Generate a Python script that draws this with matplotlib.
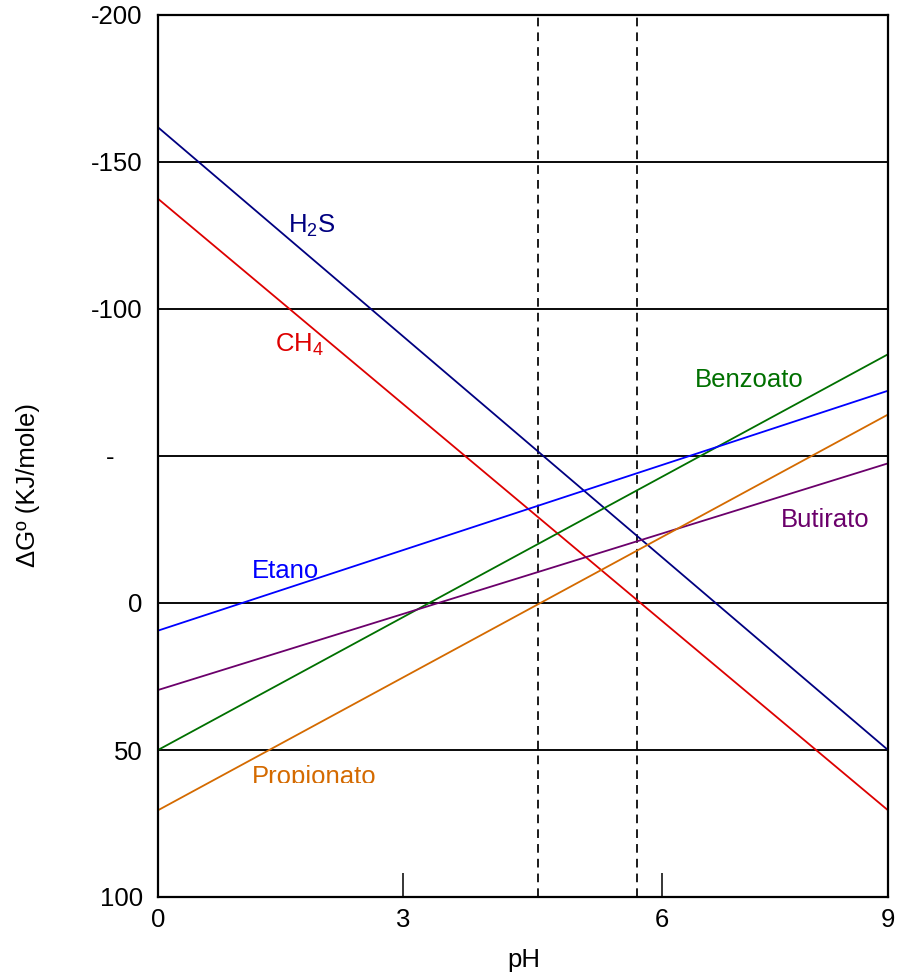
import matplotlib
matplotlib.use("Agg")
import matplotlib.pyplot as plt
from matplotlib.patches import Rectangle

plt.rcParams['font.family'] = ['Liberation Sans', 'DejaVu Sans']
plt.rcParams['mathtext.default'] = 'regular'

# ---- data ----
ph_range = [0, 9]
series_names = ['H$_2$S', 'CH$_4$', 'Benzoato', 'Etano', 'Butirato', 'Propionato']
series_start = [-161.8, -137.5, 50.0, 9.4, 29.6, 70.5]   # dG at pH 0
series_end = [50.0, 70.5, -84.6, -72.2, -47.5, -64.1]     # dG at pH 9
series_colors = ['#000080', '#DD0000', '#007000', '#0000FF', '#6B006B', '#D46A00']
label_x = [1.60, 1.44, 6.62, 1.16, 7.68, 1.16]
label_y = [-126.0, -85.5, -73.3, -8.4, -25.7, 61.5]

hlines = [-150, -100, -50, 0, 50]
vlines = [4.69, 5.90]

xtick_pos = [0, 3.02, 6.21, 9]
xtick_labels = ['0', '3', '6', '9']
ytick_pos = [-200, -150, -100, -50, 0, 50, 100]
ytick_labels = ['-200', '-150', '-100', '-    ', '0', '50', '100']

# ---- figure ----
fig = plt.figure(figsize=(9, 9.73), dpi=100)
ax = fig.add_axes([158/900, 1-897/973, 730/900, 882/973])

for yv in hlines:
    ax.axhline(yv, color='black', lw=1.35, zorder=1)
for xv in vlines:
    ax.axvline(xv, color='black', lw=1.25, ls=(0, (5, 3.5)), zorder=1)

for s0, s1, c in zip(series_start, series_end, series_colors):
    ax.plot(ph_range, [s0, s1], color=c, lw=1.3, zorder=2)

clip_rect = Rectangle((0, -200), 9, 261.1, transform=ax.transData,
                      facecolor='none', edgecolor='none')
for name, lx, ly, c in zip(series_names, label_x, label_y, series_colors):
    t = ax.text(lx, ly, name, color=c, fontsize=18.5, ha='left', va='baseline', zorder=3)
    if name == 'Propionato':
        t.set_clip_on(True)
        t.set_clip_path(clip_rect)

ax.set_xlim(0, 9)
ax.set_ylim(100, -200)

ax.set_xticks(xtick_pos)
ax.set_xticklabels(xtick_labels)
ax.set_yticks(ytick_pos)
ax.set_yticklabels(ytick_labels)

ax.tick_params(axis='x', direction='in', length=17, width=1.1, pad=8,
               labelsize=18.5, colors='black')
ax.tick_params(axis='y', length=0, pad=11, labelsize=18.5)

for sp in ax.spines.values():
    sp.set_linewidth(1.6)

ax.set_xlabel('pH', fontsize=18.5)
ax.xaxis.set_label_coords(0.501, -0.058)
ax.xaxis.label.set_va('top')

fig.text(28/900, 1-485/973, 'ΔGº (KJ/mole)', rotation=90, fontsize=18.5,
         ha='center', va='center')

fig.savefig('out.png', dpi=100)
